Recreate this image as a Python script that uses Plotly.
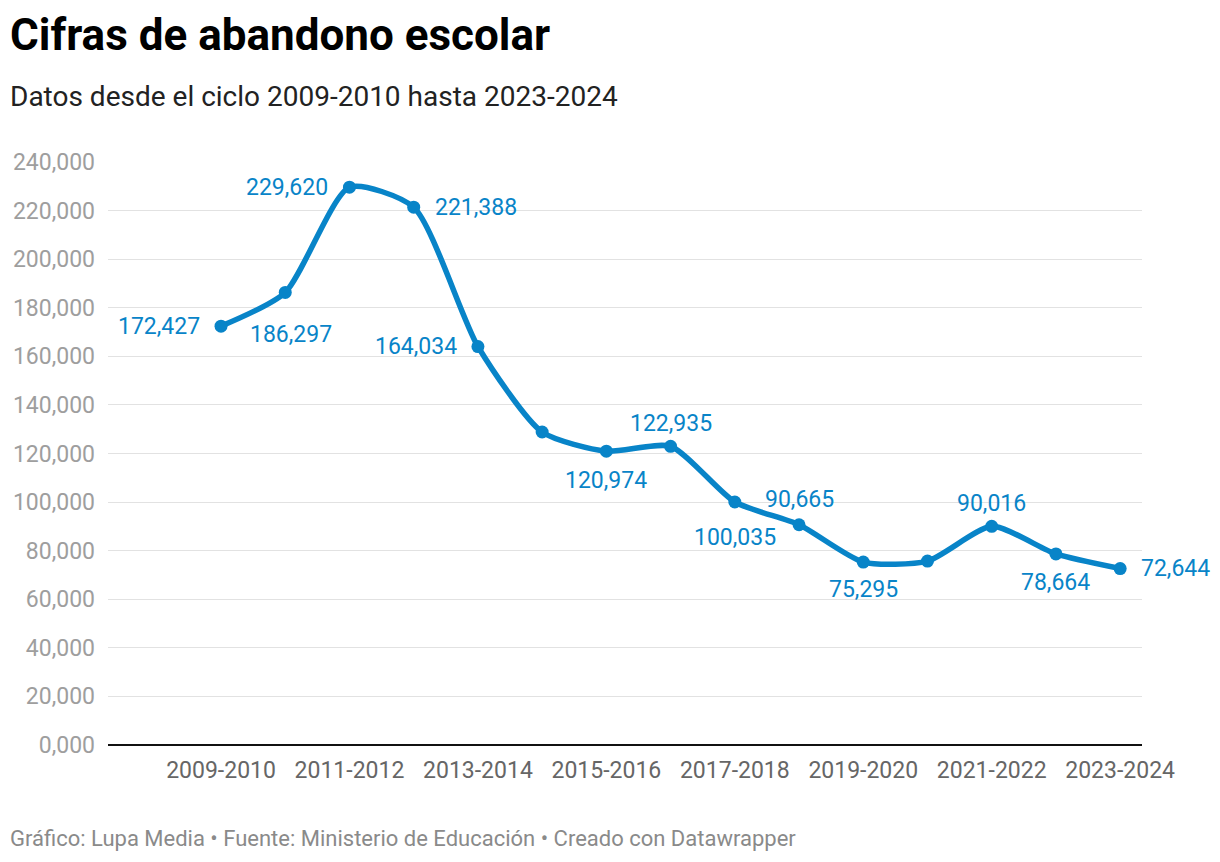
import plotly.graph_objects as go

# Datos
ciclos = ['2009-2010', '2010-2011', '2011-2012', '2012-2013', '2013-2014',
          '2014-2015', '2015-2016', '2016-2017', '2017-2018', '2018-2019',
          '2019-2020', '2020-2021', '2021-2022', '2022-2023', '2023-2024']
abandono = [172427, 186297, 229620, 221388, 164034,
            128850, 120974, 122935, 100035, 90665,
            75295, 75700, 90016, 78664, 72644]
etiquetas = ['172,427', '186,297', '229,620', '221,388', '164,034',
             '', '120,974', '122,935', '100,035', '90,665',
             '75,295', '', '90,016', '78,664', '72,644']

y_ticks = [0, 20000, 40000, 60000, 80000, 100000, 120000, 140000,
           160000, 180000, 200000, 220000, 240000]
y_ticktext = ['0,000', '20,000', '40,000', '60,000', '80,000', '100,000', '120,000',
              '140,000', '160,000', '180,000', '200,000', '220,000', '240,000']
x_ticks = ciclos[::2]

# colocacion de etiquetas: (xanchor, desplazamiento x, desplazamiento y)
colocacion = {
    'izq': ('right', -19, 0),
    'der': ('left', 19, 0),
    'arriba': ('center', 0, 23),
    'abajo': ('center', 0, -29),
}
lado = ['izq', 'abajo', 'izq', 'der', 'izq',
        None, 'abajo', 'arriba', 'abajo', 'arriba',
        'abajo', None, 'arriba', 'abajo', 'der']

AZUL = '#0884c8'
FONT = 'Roboto'

x_idx = list(range(len(ciclos)))

fig = go.Figure()
fig.add_trace(go.Scatter(
    x=x_idx, y=abandono,
    mode='lines+markers',
    line=dict(color=AZUL, width=5.5, shape='spline', smoothing=0.65),
    marker=dict(color=AZUL, size=13),
    cliponaxis=False,
    hoverinfo='skip',
))

anotaciones = []
for i, (v, t, l) in enumerate(zip(abandono, etiquetas, lado)):
    if not t:
        continue
    xa, dx, dy = colocacion[l]
    if i == 1:
        dx, dy = 6, -42
    elif i == 8:
        dy = -35
    elif i == 10:
        dy = -27
    elif i == 9:
        dy = 25
    anotaciones.append(dict(
        x=i, y=v, text=t, xref='x', yref='y',
        xanchor=xa, yanchor='middle', xshift=dx, yshift=dy,
        showarrow=False, font=dict(family=FONT, size=23, color=AZUL),
    ))

anotaciones += [
    dict(text='<b>Cifras de abandono escolar</b>', xref='paper', yref='paper',
         x=-100 / 1034, y=1 + 127 / 583, xanchor='left', yanchor='middle',
         showarrow=False, font=dict(family=FONT, size=44, color='#000000')),
    dict(text='Datos desde el ciclo 2009-2010 hasta 2023-2024', xref='paper', yref='paper',
         x=-100 / 1034, y=1 + 65 / 583, xanchor='left', yanchor='middle',
         showarrow=False, font=dict(family=FONT, size=28, color='#222222')),
    dict(text='Gráfico: Lupa Media • Fuente: Ministerio de Educación • Creado con Datawrapper',
         xref='paper', yref='paper',
         x=-100 / 1034, y=-93 / 583, xanchor='left', yanchor='middle',
         showarrow=False, font=dict(family=FONT, size=22, color='#8a8a8a')),
]

fig.update_layout(
    width=1220, height=862,
    paper_bgcolor='white', plot_bgcolor='white',
    margin=dict(l=108, r=78, t=162, b=117),
    showlegend=False,
    font=dict(family=FONT),
    xaxis=dict(
        range=[-1.76, 14.34],
        tickvals=[ciclos.index(c) for c in x_ticks],
        ticktext=x_ticks,
        tickfont=dict(family=FONT, size=23, color='#666666'),
        showgrid=False, zeroline=False,
        showline=False, ticks='',
        ticklabelstandoff=9,
    ),
    yaxis=dict(
        range=[0, 240000],
        tickvals=y_ticks,
        ticktext=y_ticktext,
        tickfont=dict(family=FONT, size=23, color='#9e9e9e'),
        showgrid=True, gridcolor='#e2e2e2', gridwidth=1,
        zeroline=True, zerolinecolor='#111111', zerolinewidth=2,
        ticks='', ticklabelstandoff=12,
    ),
    annotations=anotaciones,
)

fig.write_html('out.html', config={'displayModeBar': False},
               post_script="document.body.style.margin='0';")
